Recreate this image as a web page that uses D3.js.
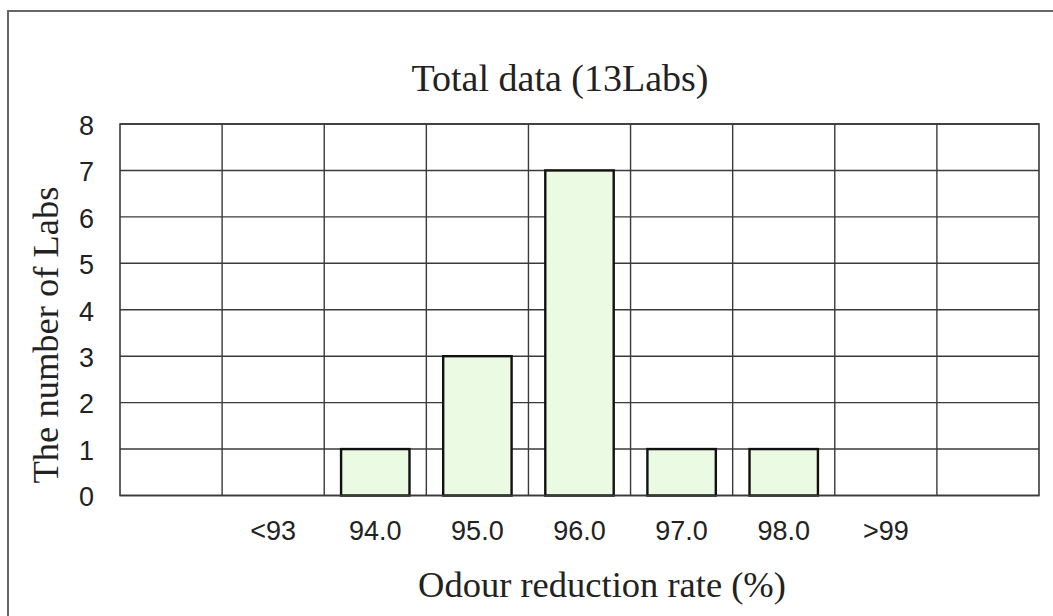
<!DOCTYPE html>
<html>
<head>
<meta charset="utf-8">
<script src="https://cdn.jsdelivr.net/npm/d3@7"></script>
<style>
  html, body { margin: 0; padding: 0; background: #fff; }
  svg { display: block; }
</style>
</head>
<body>
<script>
// ---- data ----
const categories = ["", "<93", "94.0", "95.0", "96.0", "97.0", "98.0", ">99", ""];
const labCounts = [0, 0, 1, 3, 7, 1, 1, 0, 0];
const yTicks = [0, 1, 2, 3, 4, 5, 6, 7, 8];
const chartTitle = "Total data (13Labs)";
const xTitle = "Odour reduction rate (%)";
const yTitle = "The number of Labs";

// ---- layout ----
const W = 1053, H = 616;
const plot = { left: 120, right: 1039, top: 124, bottom: 495.5 };
const serif = "'Liberation Serif', 'Times New Roman', serif";
const sans = "'Liberation Sans', Arial, sans-serif";

const svg = d3.select("body").append("svg").attr("width", W).attr("height", H);

// outer frame
svg.append("rect")
  .attr("x", 8).attr("y", 11).attr("width", W + 20).attr("height", H + 20)
  .attr("fill", "none").attr("stroke", "#666").attr("stroke-width", 2);

const idx = d3.range(categories.length);
const xCol = d3.scaleBand().domain(idx).range([plot.left, plot.right]).padding(0);
const xBar = d3.scaleBand().domain(idx).range([plot.left, plot.right])
  .paddingInner(0.33).paddingOuter(0.165);
const y = d3.scaleLinear().domain([0, 8]).range([plot.bottom, plot.top]);

// gridlines
const grid = svg.append("g");
grid.selectAll("line.h").data(yTicks).join("line")
  .attr("x1", plot.left).attr("x2", plot.right)
  .attr("y1", d => y(d)).attr("y2", d => y(d))
  .attr("stroke", "#3a3a3a").attr("stroke-width", 1.4);
grid.selectAll("line.v").data(idx.slice(1)).join("line")
  .attr("x1", d => xCol(d)).attr("x2", d => xCol(d))
  .attr("y1", plot.top).attr("y2", plot.bottom)
  .attr("stroke", "#3a3a3a").attr("stroke-width", 1.4);

// bars
svg.append("g").selectAll("rect").data(idx.filter(i => labCounts[i] > 0)).join("rect")
  .attr("x", i => xBar(i))
  .attr("y", i => y(labCounts[i]))
  .attr("width", xBar.bandwidth())
  .attr("height", i => y(0) - y(labCounts[i]))
  .attr("fill", "#ebfae2")
  .attr("stroke", "#111")
  .attr("stroke-width", 2.4);

// plot border
svg.append("rect")
  .attr("x", plot.left).attr("y", plot.top)
  .attr("width", plot.right - plot.left).attr("height", plot.bottom - plot.top)
  .attr("fill", "none").attr("stroke", "#3a3a3a").attr("stroke-width", 1.6);

// y axis
const yAxis = d3.axisLeft(y).tickValues(yTicks).tickSize(0).tickPadding(26).tickFormat(d3.format("d"));
const gy = svg.append("g").attr("transform", `translate(${plot.left},0)`).call(yAxis);
gy.select(".domain").remove();
gy.selectAll("text").attr("font-family", sans).attr("font-size", 27).attr("fill", "#222")
  .attr("dy", "0.38em");

// x axis
const xAxis = d3.axisBottom(xCol).tickSize(0).tickPadding(0).tickFormat(i => categories[i]);
const gx = svg.append("g").attr("transform", `translate(0,${plot.bottom})`).call(xAxis);
gx.select(".domain").remove();
gx.selectAll("text").attr("font-family", sans).attr("font-size", 27).attr("fill", "#222")
  .attr("dy", null).attr("y", 44.5);

// titles
svg.append("text").attr("x", 560).attr("y", 91)
  .attr("text-anchor", "middle").attr("font-family", serif).attr("font-size", 38).attr("fill", "#222")
  .text(chartTitle);
svg.append("text").attr("x", 602).attr("y", 597)
  .attr("text-anchor", "middle").attr("font-family", serif).attr("font-size", 36.5).attr("fill", "#222")
  .text(xTitle);
svg.append("text").attr("transform", "translate(58,335) rotate(-90)")
  .attr("text-anchor", "middle").attr("font-family", serif).attr("font-size", 36.5).attr("fill", "#222")
  .text(yTitle);
</script>
</body>
</html>
